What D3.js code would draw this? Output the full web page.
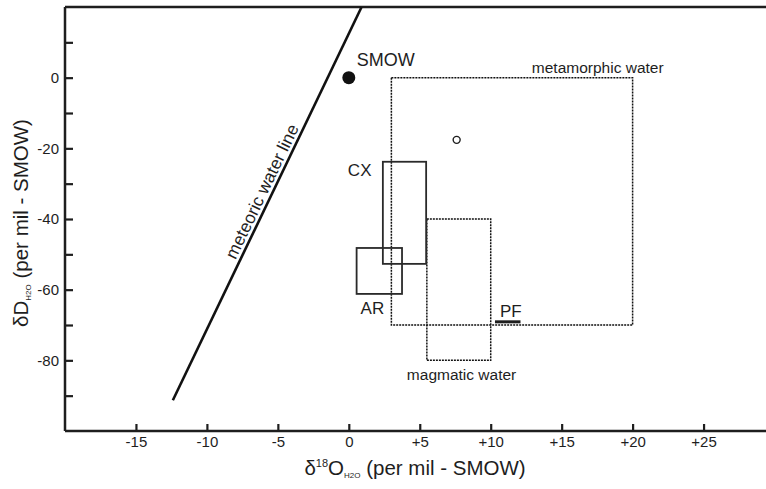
<!DOCTYPE html>
<html><head><meta charset="utf-8">
<script src="https://cdn.jsdelivr.net/npm/d3@7"></script>
<style>
body{margin:0;background:#fff;}
svg{display:block;font-family:"Liberation Sans",Arial,sans-serif;}
</style></head>
<body><svg id="c" width="766" height="489"></svg>
<script>
// ---- data ----
const xTicks = [-15,-10,-5,0,5,10,15,20,25];
const xTickLabels = ["-15","-10","-5","0","+5","+10","+15","+20","+25"];
const yTicks = [-90,-80,-70,-60,-50,-40,-30,-20,-10,0,10];
const yTickLabels = ["","-80","","-60","","-40","","-20","","0",""];
const meteoricLine = [[-12.4,-91.3],[0.9,20]];
const smow = [0,0];
const openPoint = [7.6,-17.6];
// boxes: [x0,x1,y0,y1]
const fieldNames = ["metamorphic water","magmatic water"];
const fieldBoxes = [[3,20,-70,0],[5.5,10,-80,-40]];
const sampleNames = ["CX","AR"];
const sampleBoxes = [[2.4,5.45,-52.7,-23.8],[0.55,3.75,-61.2,-48.2]];
const pfLine = [[10.3,-69.1],[12.1,-69.1]];

const svg = d3.select("#c");
const x = d3.scaleLinear().domain([-20,29.4]).range([65,766]);
const y = d3.scaleLinear().domain([-100,20]).range([431,7]);
const ink = "#1e1e1e";

// frame
svg.append("line").attr("x1",65).attr("x2",766).attr("y1",y(20)).attr("y2",y(20)).attr("stroke",ink).attr("stroke-width",2.5);

const xAxis = d3.axisBottom(x).tickValues(xTicks).tickSize(-7).tickPadding(5)
  .tickFormat((d,i)=>xTickLabels[i]);
const gx = svg.append("g").attr("transform",`translate(0,${y(-100)})`).call(xAxis);
gx.select(".domain").attr("stroke",ink).attr("stroke-width",2.5).attr("d",`M65,0H766`);
gx.selectAll(".tick line").attr("stroke",ink).attr("stroke-width",2.2);
gx.selectAll(".tick text").attr("font-size",15).attr("fill",ink).attr("font-family","Liberation Sans, Arial, sans-serif");

const yAxis = d3.axisLeft(y).tickValues(yTicks).tickSize(-8).tickPadding(6)
  .tickFormat((d,i)=>yTickLabels[i]);
const gy = svg.append("g").attr("transform",`translate(${x(-20)},0)`).call(yAxis);
gy.select(".domain").attr("stroke",ink).attr("stroke-width",2.5).attr("d",`M0,${y(20)}V${y(-100)}`);
gy.selectAll(".tick line").attr("stroke",ink).attr("stroke-width",2.2);
gy.selectAll(".tick text").attr("font-size",15).attr("fill",ink).attr("font-family","Liberation Sans, Arial, sans-serif");

// axis titles
const xt = svg.append("text").attr("x",415).attr("y",475).attr("text-anchor","middle")
  .attr("font-size",20.5).attr("fill",ink);
xt.append("tspan").text("δ");
xt.append("tspan").attr("font-size",11).attr("dy",-8).text("18");
xt.append("tspan").attr("dy",8).text("O");
xt.append("tspan").attr("font-size",8).attr("dy",3).text("H2O");
xt.append("tspan").attr("dy",-3).text(" (per mil - SMOW)");

const yt = svg.append("text").attr("transform",`translate(28,223) rotate(-90)`).attr("text-anchor","middle")
  .attr("font-size",20.5).attr("fill",ink);
yt.append("tspan").text("δD");
yt.append("tspan").attr("font-size",8).attr("dy",3).text("H2O");
yt.append("tspan").attr("dy",-3).text(" (per mil - SMOW)");

// field boxes (dotted)
svg.selectAll(".field").data(fieldBoxes).enter().append("rect")
  .attr("x",d=>x(d[0])).attr("y",d=>y(d[3]))
  .attr("width",d=>x(d[1])-x(d[0])).attr("height",d=>y(d[2])-y(d[3]))
  .attr("fill","none").attr("stroke","#111").attr("stroke-width",1.5).attr("stroke-dasharray","2,1");

// sample boxes
svg.selectAll(".sample").data(sampleBoxes).enter().append("rect")
  .attr("x",d=>x(d[0])).attr("y",d=>y(d[3]))
  .attr("width",d=>x(d[1])-x(d[0])).attr("height",d=>y(d[2])-y(d[3]))
  .attr("fill","none").attr("stroke","#2a2a2a").attr("stroke-width",1.8);

// PF line
svg.append("line").attr("x1",x(pfLine[0][0])).attr("x2",x(pfLine[1][0]))
  .attr("y1",y(pfLine[0][1])).attr("y2",y(pfLine[1][1])).attr("stroke",ink).attr("stroke-width",3);

// meteoric water line
svg.append("path").attr("d",d3.line().x(d=>x(d[0])).y(d=>y(d[1]))(meteoricLine))
  .attr("stroke","#111").attr("stroke-width",2.6).attr("fill","none");
const p0 = [x(meteoricLine[0][0]), y(meteoricLine[0][1])], p1 = [x(meteoricLine[1][0]), y(meteoricLine[1][1])];
const angR = Math.atan2(p1[1]-p0[1], p1[0]-p0[0]);
const t = 0.52, off = 4;
const mx = p0[0] + t*(p1[0]-p0[0]) + off*Math.sin(angR);
const my = p0[1] + t*(p1[1]-p0[1]) - off*Math.cos(angR);
svg.append("text").attr("transform",`translate(${mx},${my}) rotate(${angR*180/Math.PI})`).attr("text-anchor","middle")
  .attr("font-size",17.5).attr("fill",ink).text("meteoric water line");

// points
svg.append("circle").attr("cx",x(smow[0])).attr("cy",y(smow[1])).attr("r",6.5).attr("fill","#111");
svg.append("circle").attr("cx",x(openPoint[0])).attr("cy",y(openPoint[1])).attr("r",3.5).attr("fill","none").attr("stroke",ink).attr("stroke-width",1.4);

// labels
const lab = (t,px,py,fs,anchor)=>svg.append("text").attr("x",px).attr("y",py).attr("font-size",fs)
  .attr("fill",ink).attr("text-anchor",anchor||"start").text(t);
lab("SMOW", x(smow[0])+8, y(smow[1])-12, 18);
lab(fieldNames[0], x(fieldBoxes[0][1])+31, y(fieldBoxes[0][3])-5, 15.5, "end");
lab(fieldNames[1], x(fieldBoxes[1][0])-20, y(fieldBoxes[1][2])+20, 15.5);
lab(sampleNames[0], x(sampleBoxes[0][0])-35, y(sampleBoxes[0][3])+14, 17);
lab(sampleNames[1], x(sampleBoxes[1][0])+4, y(sampleBoxes[1][2])+20, 17);
lab("PF", x(pfLine[0][0])+5, y(pfLine[0][1])-5, 17);
</script></body></html>
